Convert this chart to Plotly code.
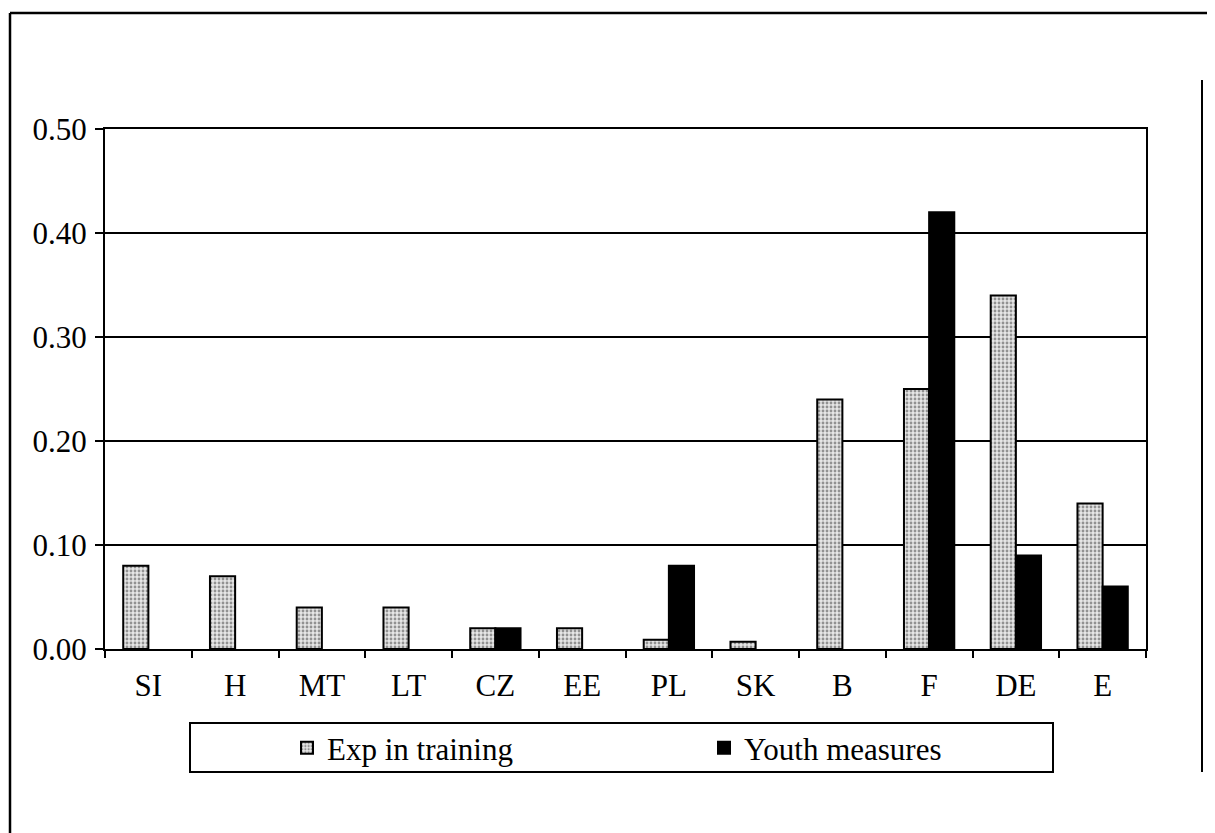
import plotly.graph_objects as go

categories = ["SI", "H", "MT", "LT", "CZ", "EE", "PL", "SK", "B", "F", "DE", "E"]
exp_training = [0.08, 0.07, 0.04, 0.04, 0.02, 0.02, 0.009, 0.007, 0.24, 0.25, 0.34, 0.14]
youth_measures = [None, None, None, None, 0.02, None, 0.08, None, None, 0.42, 0.09, 0.06]
y_ticks = [0.0, 0.1, 0.2, 0.3, 0.4, 0.5]
y_tick_labels = ["0.00", "0.10", "0.20", "0.30", "0.40", "0.50"]

OFF = 8  # page body margin
W, H = 1215 - OFF, 833 - OFF
L, R, T, B = 105 - OFF, 1146 - OFF, 129 - OFF, 649 - OFF

def px(x):
    return (x - OFF - L) / (R - L)

def py(y):
    return (B - (y - OFF)) / (B - T)

FONT = "Liberation Serif"

fig = go.Figure()
fig.add_trace(go.Bar(
    x=categories, y=exp_training, name="Exp in training",
    marker=dict(color="#d0d0d0",
                line=dict(color="black", width=2),
                pattern=dict(shape=".", fgcolor="#3c3c3c", bgcolor="#e6e6e6",
                             size=4, solidity=0.4)),
))
fig.add_trace(go.Bar(
    x=categories, y=youth_measures, name="Youth measures",
    marker=dict(color="black", line=dict(color="black", width=2)),
))

fig.update_layout(
    width=W, height=H,
    margin=dict(l=L, r=W - R, t=T, b=H - B, autoexpand=False),
    paper_bgcolor="white", plot_bgcolor="white",
    barmode="group", bargap=0.42, bargroupgap=0,
    font=dict(family=FONT, size=31, color="black"),
    showlegend=True,
    legend=dict(orientation="h", x=px(287), xanchor="left", y=py(748), yanchor="middle",
                bgcolor="rgba(0,0,0,0)", borderwidth=0,
                font=dict(family=FONT, size=31, color="black"),
                entrywidth=372, entrywidthmode="pixels", traceorder="normal"),
    xaxis=dict(showline=True, linecolor="black", linewidth=2, mirror=True,
               ticks="outside", tickson="boundaries", ticklen=7, tickwidth=2, tickcolor="black",
               showgrid=False, ticklabelstandoff=8),
    yaxis=dict(range=[0, 0.5], tickvals=y_ticks, ticktext=y_tick_labels,
               showline=True, linecolor="black", linewidth=2, mirror=True,
               ticks="outside", ticklen=8, tickwidth=2, tickcolor="black",
               showgrid=True, gridcolor="black", gridwidth=2, zeroline=False,
               ticklabelstandoff=2),
    shapes=[
        # outer frame: top and left edges
        dict(type="line", xref="paper", yref="paper",
             x0=px(10), x1=px(1260), y0=py(13), y1=py(13),
             line=dict(color="black", width=2.5)),
        dict(type="line", xref="paper", yref="paper",
             x0=px(10), x1=px(10), y0=py(13), y1=py(900),
             line=dict(color="black", width=2.5)),
        # right vertical rule
        dict(type="line", xref="paper", yref="paper",
             x0=px(1202), x1=px(1202), y0=py(80), y1=py(772),
             line=dict(color="black", width=2)),
        # legend box
        dict(type="rect", xref="paper", yref="paper",
             x0=px(190), x1=px(1053), y0=py(772), y1=py(723),
             line=dict(color="black", width=2)),
    ],
)

fig.write_html("out.html")
